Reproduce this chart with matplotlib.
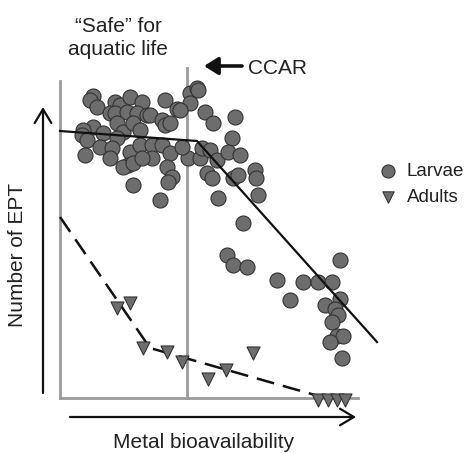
import matplotlib
matplotlib.use("Agg")
from matplotlib import pyplot as plt

# readings (image coordinates, y grows downward)
larvae_x = [92.7, 90, 96.7, 115, 120, 130, 141.7, 165, 176.7, 190, 196.7, 198, 190, 205, 213,
            110, 115, 126.7, 136.7, 146.7, 150, 161.7, 165, 170, 93.3, 83, 81.7, 103, 116.7, 123.3,
            133, 140, 116.7, 86.7, 85, 100, 111.7, 130, 128.3, 123.3, 133.3, 140, 151.7, 161.7,
            170, 151.7, 141.7, 110, 166.7, 171.7, 168.3, 133.3, 160, 188.3, 200, 201.7, 210,
            206.7, 211.7, 218.3, 180, 235, 231.7, 181.7, 216.7, 228.3, 240, 233.3, 238.3, 255,
            256, 258.3, 243.3, 226.7, 233.3, 246.7, 340, 276.7, 290, 302.7, 318.3, 331.7, 340,
            325, 335, 338.3, 331.7, 336.7, 343.3, 330, 341.7]
larvae_y = [96, 100, 106.7, 101.7, 105, 96.7, 102.3, 100, 109.3, 93.3, 88.3, 90, 103, 111.7, 123,
            113, 113, 111.7, 113, 115, 115, 120, 125, 123.3, 126.7, 130, 135, 133, 123.3, 131.7,
            123.3, 130, 138, 140, 155, 146.7, 148, 151.7, 165, 166.7, 163.3, 145, 145, 145,
            153.3, 158.3, 158, 158, 166.7, 176.7, 181.7, 185, 200, 158, 158, 148.3, 150,
            173.3, 178.3, 198.3, 110, 116.7, 138.3, 146.7, 160, 151.7, 155, 178.3, 175, 170,
            178.3, 195, 222.7, 255, 265, 266.7, 260, 280, 300, 281.7, 281.7, 281.7, 299.3,
            305, 309.3, 315, 321.7, 336, 336, 341.7, 358.3]

adults_x = [116.7, 130, 143.3, 166.7, 182.2, 208.3, 225.8, 252.5, 318.3, 328.3, 336.7, 345]
adults_y = [308.3, 303.3, 348.3, 351.7, 361.7, 379, 370, 353.3, 400, 400, 400, 400]

# fitted trends (breakpoint lines)
larvae_fit_x = [60, 197, 377]
larvae_fit_y = [131, 141, 342]
adults_fit_x = [60, 150, 322]
adults_fit_y = [217, 348, 397]

# reference frame: "safe" zone edge, CCAR line, baseline
safe_x = 60
ccar_x = 187
base_y = 398

plt.rcParams['font.family'] = ['Liberation Sans', 'DejaVu Sans']
txt = '#222222'
grey = '#9a9a9a'

fig = plt.figure(figsize=(4.69, 4.53), dpi=100)
ax = fig.add_axes([0, 0, 1, 1])
ax.set_xlim(0, 469)
ax.set_ylim(453, 0)
ax.axis('off')

ax.plot([safe_x, safe_x], [81, base_y], color=grey, lw=2, zorder=1)
ax.plot([ccar_x, ccar_x], [68, base_y], color=grey, lw=2, zorder=1)
ax.plot([safe_x, 358], [base_y, base_y], color=grey, lw=2, zorder=1)

ax.scatter(larvae_x, larvae_y, s=117, marker='o', facecolor='#6d6d6d',
           edgecolor='#333333', linewidth=0.8, zorder=2, label='Larvae')
ax.plot(larvae_fit_x, larvae_fit_y, color='#111111', lw=1.6, zorder=3)

ax.plot(adults_fit_x, adults_fit_y, color='#111111', lw=1.8, dashes=(7.2, 3.6), zorder=3)
ax.scatter(adults_x, adults_y, s=88, marker='v', facecolor='#6d6d6d',
           edgecolor='#333333', linewidth=0.8, zorder=4, label='Adults')

# axis arrows
ax.annotate('', xy=(43, 107), xytext=(43, 393),
            arrowprops=dict(arrowstyle='->,head_length=0.5,head_width=0.3', lw=1.6,
                            color='#111111', mutation_scale=20, shrinkA=0, shrinkB=0))
ax.annotate('', xy=(356, 417), xytext=(70, 417),
            arrowprops=dict(arrowstyle='->,head_length=0.5,head_width=0.3', lw=1.6,
                            color='#111111', mutation_scale=20, shrinkA=0, shrinkB=0))
ax.annotate('', xy=(204, 66), xytext=(242, 66),
            arrowprops=dict(arrowstyle='-|>,head_length=0.4,head_width=0.25', lw=2.6,
                            color='#111111', mutation_scale=21, shrinkA=0, shrinkB=0))

ax.text(118, 38, '\u201cSafe\u201d for\naquatic life', ha='center', va='center',
        fontsize=15, color=txt, linespacing=1.25)
ax.text(248, 68, 'CCAR', ha='left', va='center', fontsize=15, color=txt)
ax.text(204, 442, 'Metal bioavailability', ha='center', va='center', fontsize=15, color=txt)
ax.text(18, 255, 'Number of EPT', ha='center', va='center', rotation=90, fontsize=15, color=txt)

ax.legend(loc='center left', bbox_to_anchor=(0.787, 0.593), frameon=False, fontsize=13.5,
          handlelength=1, handletextpad=0.5, labelspacing=0.47, borderpad=0,
          markerscale=0.87, labelcolor=txt)

fig.savefig('out.png', dpi=100)
